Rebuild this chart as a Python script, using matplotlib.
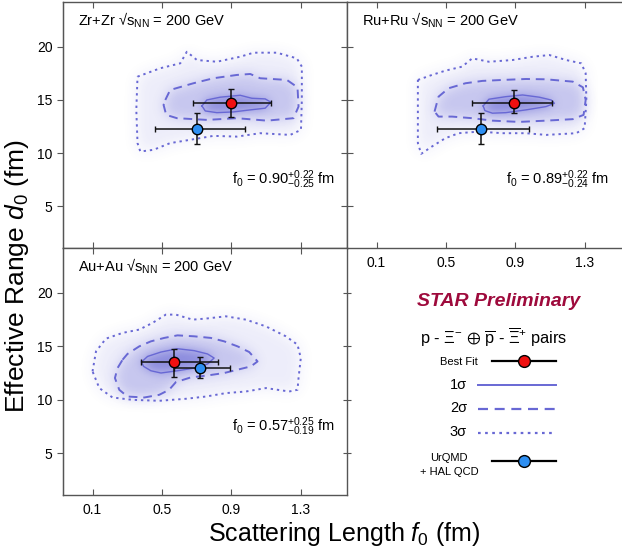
#--- Imports ---
import numpy as np
import matplotlib
matplotlib.use('Agg')
import matplotlib.pyplot as plt
from matplotlib.patches import Polygon

plt.rcParams['font.family'] = ['Liberation Sans', 'DejaVu Sans']
plt.rcParams['mathtext.fontset'] = 'custom'
plt.rcParams['mathtext.rm'] = 'Liberation Sans'
plt.rcParams['mathtext.it'] = 'Liberation Sans:italic'
plt.rcParams['mathtext.bf'] = 'Liberation Sans:bold'
plt.rcParams['mathtext.fallback'] = 'stixsans'

#--- Data ---
# best fit / UrQMD points: (f0, f0 err low, f0 err high, d0, d0 err low, d0 err high)
zr_best = (0.90, 0.22, 0.23, 14.75, 1.31, 1.25)
zr_urqmd = (0.70, 0.24, 0.28, 12.29, 1.44, 1.51)
ru_best = (0.89, 0.24, 0.22, 14.75, 1.00, 1.15)
ru_urqmd = (0.70, 0.25, 0.28, 12.30, 1.45, 1.50)
au_best = (0.57, 0.19, 0.25, 13.54, 1.41, 1.24)
au_urqmd = (0.72, 0.15, 0.17, 12.97, 0.93, 1.00)

# contour outlines (f0, d0)
zr_sigma1 = [(0.730, 14.44), (0.758, 15.00), (0.835, 15.26), (0.950, 15.44), (1.017, 15.16),
             (1.094, 15.10), (1.127, 14.79), (1.094, 14.23), (1.008, 14.07), (0.912, 13.88),
             (0.816, 13.81), (0.749, 13.97)]
zr_sigma2 = [(0.519, 15.00), (0.547, 15.94), (0.681, 16.57), (0.796, 17.04), (0.931, 17.35),
             (1.008, 17.44), (1.065, 17.04), (1.219, 16.88), (1.280, 16.19), (1.286, 14.38),
             (1.257, 13.29), (1.104, 13.06), (0.931, 13.29), (0.758, 13.13), (0.586, 13.29),
             (0.524, 13.60), (0.509, 14.54)]
zr_sigma3 = [(0.359, 17.19), (0.490, 17.98), (0.605, 18.44), (0.643, 19.53), (0.701, 18.75),
             (0.816, 18.59), (0.950, 19.06), (1.027, 19.44), (1.161, 19.44), (1.276, 18.91),
             (1.305, 18.13), (1.305, 15.00), (1.300, 12.19), (1.238, 11.72), (1.065, 11.88),
             (0.931, 11.56), (0.796, 11.63), (0.662, 11.26), (0.547, 10.95), (0.451, 10.32),
             (0.375, 10.16), (0.359, 10.95), (0.352, 14.07)]

ru_sigma1 = [(0.714, 14.44), (0.747, 15.07), (0.844, 15.31), (0.941, 15.47), (1.037, 15.26),
             (1.105, 15.00), (1.124, 14.69), (1.076, 14.38), (0.960, 14.07), (0.844, 13.81),
             (0.767, 13.76), (0.724, 14.00)]
ru_sigma2 = [(0.434, 13.91), (0.457, 15.31), (0.515, 16.10), (0.612, 16.57), (0.709, 16.79),
             (0.825, 16.88), (0.960, 16.97), (1.076, 16.94), (1.230, 16.72), (1.288, 16.19),
             (1.304, 15.00), (1.292, 13.60), (1.230, 13.20), (1.076, 13.06), (0.921, 12.94),
             (0.767, 13.06), (0.651, 13.29), (0.535, 13.44), (0.457, 13.44)]
ru_sigma3 = [(0.338, 16.88), (0.419, 17.35), (0.496, 17.75), (0.593, 18.13), (0.651, 18.91),
             (0.747, 18.59), (0.883, 18.75), (0.999, 19.06), (1.095, 19.22), (1.192, 18.75),
             (1.279, 18.44), (1.304, 17.50), (1.308, 15.00), (1.298, 12.35), (1.250, 11.88),
             (1.076, 11.72), (0.960, 11.88), (0.825, 11.88), (0.689, 12.03), (0.573, 11.88),
             (0.496, 11.41), (0.419, 10.63), (0.357, 9.94), (0.338, 10.95), (0.338, 14.07)]

au_sigma1 = [(0.382, 13.54), (0.417, 14.06), (0.494, 14.47), (0.589, 14.78), (0.685, 14.60),
             (0.762, 14.29), (0.800, 13.91), (0.762, 13.35), (0.685, 12.97), (0.589, 12.72),
             (0.494, 12.51), (0.436, 12.72), (0.394, 13.13)]
au_sigma2 = [(0.273, 13.75), (0.301, 14.29), (0.369, 15.00), (0.436, 15.47), (0.513, 15.79),
             (0.589, 16.03), (0.685, 15.94), (0.781, 15.79), (0.858, 15.47), (0.935, 15.00),
             (1.002, 14.47), (1.050, 13.59), (1.012, 13.13), (0.935, 12.82), (0.858, 12.51),
             (0.762, 12.28), (0.666, 12.10), (0.580, 11.66), (0.541, 10.94), (0.484, 10.47),
             (0.398, 10.22), (0.301, 10.31), (0.254, 10.94), (0.229, 12.04), (0.244, 12.97)]
au_sigma3 = [(0.100, 12.66), (0.120, 14.53), (0.177, 15.72), (0.273, 16.26), (0.369, 16.57),
             (0.445, 17.19), (0.522, 17.97), (0.580, 17.97), (0.676, 17.50), (0.753, 17.60),
             (0.868, 17.81), (0.983, 17.50), (1.098, 16.87), (1.213, 15.94), (1.280, 15.16),
             (1.299, 13.91), (1.286, 12.04), (1.280, 10.94), (1.232, 10.78), (1.098, 11.10),
             (0.983, 10.78), (0.868, 10.63), (0.753, 10.31), (0.638, 10.10), (0.484, 9.91),
             (0.330, 10.00), (0.215, 10.22), (0.139, 11.10)]

x_ticks = [0.1, 0.5, 0.9, 1.3]
y_ticks = [5, 10, 15, 20]

#--- Styles ---
line_col = '#6868d4'
fill_col = (0.30, 0.30, 0.80)
dash2 = (0, (4.5, 3.0))
dot3 = (0, (1.2, 2.0))


def soft_fill(rgb, radius):
    # blur the alpha of a filled patch so it looks like a density map
    def _filter(img, dpi):
        r = max(1, int(radius * dpi / 100.0))
        pad = 3 * r
        a = np.pad(img[..., 3], pad)
        k = np.exp(-0.5 * (np.arange(-pad, pad + 1) / r) ** 2)
        k /= k.sum()
        for axis in (0, 1):
            a = sum(w * np.roll(a, s, axis=axis) for s, w in zip(range(-pad, pad + 1), k))
        out = np.empty(a.shape + (4,))
        out[..., 0] = rgb[0]
        out[..., 1] = rgb[1]
        out[..., 2] = rgb[2]
        out[..., 3] = np.clip(a, 0, 1)
        return out, -pad, -pad
    return _filter


def closed(poly):
    xs = [p[0] for p in poly] + [poly[0][0]]
    ys = [p[1] for p in poly] + [poly[0][1]]
    return xs, ys


def draw_panel(ax, s1, s2, s3, best, urqmd, title, f0_text, f0_x):
    for poly, a, r in ((s3, 0.10, 7), (s2, 0.24, 6), (s1, 0.48, 5)):
        p = Polygon(poly, closed=True, facecolor=fill_col, edgecolor='none', alpha=a)
        p.set_agg_filter(soft_fill(fill_col, r))
        ax.add_patch(p)
    xs, ys = closed(s1)
    ax.plot(xs, ys, color=line_col, lw=1.0)
    xs, ys = closed(s2)
    ax.plot(xs, ys, color=line_col, lw=1.4, linestyle=dash2)
    xs, ys = closed(s3)
    ax.plot(xs, ys, color=line_col, lw=1.4, linestyle=dot3)

    for pt, fc in ((best, '#f01010'), (urqmd, '#2e8ff2')):
        ax.errorbar([pt[0]], [pt[3]], xerr=[[pt[1]], [pt[2]]], yerr=[[pt[4]], [pt[5]]],
                    fmt='o', color='#111111', mfc=fc, mec='k', ms=7.5, mew=1.0,
                    elinewidth=1.1, capsize=2.5, capthick=1.1, zorder=5)

    ax.text(0.053, 0.927, title, transform=ax.transAxes, fontsize=10.5, va='center', ha='left')
    ax.text(f0_x, 0.276, f0_text, transform=ax.transAxes,
            fontsize=10.5, va='center', ha='right')

    ax.set_xlim(-0.07, 1.565)
    ax.set_ylim(1.1, 24.2)
    ax.set_xticks(x_ticks)
    ax.set_yticks(y_ticks)
    for s in ax.spines.values():
        s.set_color('#555555')
        s.set_linewidth(1.0)
    ax.tick_params(axis='x', direction='in', top=True, bottom=True, length=4, color='#555555',
                   labelsize=10, pad=6)
    ax.tick_params(axis='y', direction='in', left=True, right=True, length=4, color='#555555',
                   labelsize=10)


#--- Figure ---
W, H = 622, 551
fig = plt.figure(figsize=(W / 100, H / 100), dpi=100)

ax_zr = fig.add_axes([63 / W, 1 - 248 / H, 284 / W, 246 / H])
ax_ru = fig.add_axes([347 / W, 1 - 248 / H, 284 / W, 246 / H])
ax_au = fig.add_axes([63 / W, 1 - 495 / H, 284 / W, 247 / H])

draw_panel(ax_zr, zr_sigma1, zr_sigma2, zr_sigma3, zr_best, zr_urqmd,
           r'Zr+Zr √s$_{\mathregular{NN}}$ = 200 GeV', r'f$_0$ = 0.90$^{+0.22}_{-0.25}$ fm', 0.958)
draw_panel(ax_ru, ru_sigma1, ru_sigma2, ru_sigma3, ru_best, ru_urqmd,
           r'Ru+Ru √s$_{\mathregular{NN}}$ = 200 GeV', r'f$_0$ = 0.89$^{+0.22}_{-0.24}$ fm', 0.923)
draw_panel(ax_au, au_sigma1, au_sigma2, au_sigma3, au_best, au_urqmd,
           r'Au+Au √s$_{\mathregular{NN}}$ = 200 GeV', r'f$_0$ = 0.57$^{+0.25}_{-0.19}$ fm', 0.958)

# outer ticks on the left, labels only where the picture has them
for ax in (ax_zr, ax_au):
    ax.tick_params(axis='y', left=False, labelleft=False)
    sec = ax.secondary_yaxis('left')
    sec.set_yticks(y_ticks)
    sec.tick_params(direction='out', length=4, color='#555555', labelsize=10)
    sec.spines['left'].set_color('#555555')
ax_zr.tick_params(axis='x', labelbottom=False)
ax_ru.tick_params(axis='y', labelleft=False)
ax_au.tick_params(axis='y', right=True, direction='inout', length=6)

fig.text(17 / W, 1 - 276 / H, r'Effective Range $d_0$ (fm)', rotation=90,
         ha='center', va='center', fontsize=19)
fig.text(344 / W, 1 - 541 / H, r'Scattering Length $f_0$ (fm)',
         ha='center', va='baseline', fontsize=18)

#--- Legend panel ---
ax_leg = fig.add_axes([347 / W, 1 - 495 / H, 275 / W, 247 / H])
ax_leg.set_xlim(347, 622)
ax_leg.set_ylim(495, 248)
ax_leg.axis('off')

ax_leg.text(499, 302, 'STAR Preliminary', ha='center', va='center', fontsize=14,
            fontweight='bold', fontstyle='italic', color='#9e0a3c')
ax_leg.text(494, 337, r'p - $\Xi^{-}$ $\oplus$ $\overline{\mathregular{p}}$ - $\overline{\Xi}^{+}$ pairs',
            ha='center', va='center', fontsize=11.8)

ax_leg.text(478, 362, 'Best Fit', ha='right', va='center', fontsize=8)
ax_leg.plot([492, 556], [361, 361], color='k', lw=1.6)
ax_leg.plot([523.5], [361], 'o', mfc='#f01010', mec='k', ms=8.5, mew=1.0)

for label, yy, ls, lw in (('1σ', 385, '-', 1.4), ('2σ', 408.5, dash2, 1.6), ('3σ', 432.5, dot3, 1.6)):
    ax_leg.text(467, yy, label, ha='right', va='center', fontsize=10.5)
    ax_leg.plot([478, 556], [yy, yy], color=line_col, lw=lw, linestyle=ls)

ax_leg.text(449, 465, 'UrQMD\n+ HAL QCD', ha='center', va='center', fontsize=8, linespacing=1.5)
ax_leg.plot([492, 556], [461, 461], color='k', lw=1.6)
ax_leg.plot([523.5], [461], 'o', mfc='#2e8ff2', mec='k', ms=8.5, mew=1.0)

fig.savefig('out.png', dpi=100)
